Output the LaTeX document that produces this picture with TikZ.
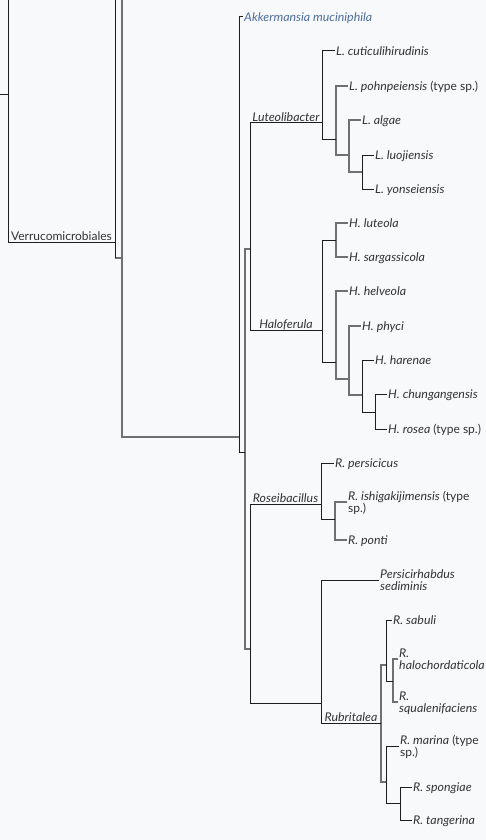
\documentclass[tikz,border=0pt]{standalone}
\usepackage{fontspec}
\setmainfont{Lato}[ItalicFeatures={FakeStretch=1.03}]
\definecolor{bg}{HTML}{F8F9FA}
\definecolor{lkB}{HTML}{1E1E1E}
\definecolor{lkG}{HTML}{707070}
\definecolor{txt}{HTML}{333333}
\definecolor{akk}{HTML}{4E6E9E}
\newcommand{\twoline}[2]{\begin{tabular}[t]{@{}l@{}}#1\\#2\end{tabular}}
\tikzset{
  lb/.style={draw=lkB, line width=1pt},
  lg/.style={draw=lkG, line width=1.4pt},
  leaf/.style={anchor=west, inner xsep=1pt, inner ysep=0pt, text height=8.4pt, text depth=0pt,
    text=txt, font=\fontsize{12}{10.5}\selectfont},
  leaftwo/.style={leaf, text depth=11.4pt},
  clade/.style={anchor=base, inner sep=0pt, text=txt, font=\fontsize{12}{12}\selectfont\itshape},
}
\begin{document}
\begin{tikzpicture}[x=1pt,y=-1pt]
\fill[bg] (0,0) rectangle (486,840);
\useasboundingbox (0,0) rectangle (486,840);
% internal nodes
\coordinate (e0) at (0,95);
\coordinate (n0) at (8,95);
\coordinate (t0) at (8,0);
\coordinate (nV) at (115,242);
\coordinate (tV) at (115,0);
\coordinate (n1) at (122,258);
\coordinate (t1) at (122,0);
\coordinate (n2) at (239,437);
\coordinate (n3) at (245,452);
\coordinate (n4) at (250,249);
\coordinate (n5) at (250,649);
\coordinate (nLut) at (322,123);
\coordinate (nL1) at (336,139);
\coordinate (nL2) at (349,155);
\coordinate (nL3) at (362,172);
\coordinate (nHal) at (322,330);
\coordinate (nH1) at (336,240);
\coordinate (nH2) at (336,362);
\coordinate (nH3) at (349,379);
\coordinate (nH4) at (362,395);
\coordinate (nH5) at (375,412);
\coordinate (nRos) at (321,504);
\coordinate (nR1) at (335,519);
\coordinate (n6) at (321,703);
\coordinate (nRub) at (381,723);
\coordinate (nU1) at (386,665);
\coordinate (nU2) at (393,681);
\coordinate (nU3) at (386,782);
\coordinate (nU4) at (400,803);
% leaves
\node[leaf, text=akk] (akk) at (243,17) {\itshape Akkermansia muciniphila};
\node[leaf] (cut) at (335,51) {\itshape L. cuticulihirudinis};
\node[leaf] (poh) at (348,86) {\itshape L. pohnpeiensis\/\upshape{} (type sp.)};
\node[leaf] (alg) at (361,120) {\itshape L. algae};
\node[leaf] (luo) at (374,155) {\itshape L. luojiensis};
\node[leaf] (yon) at (374,189) {\itshape L. yonseiensis};
\node[leaf] (hlu) at (348,223) {\itshape H. luteola};
\node[leaf] (hsa) at (348,257) {\itshape H. sargassicola};
\node[leaf] (hhe) at (348,291) {\itshape H. helveola};
\node[leaf] (hph) at (361,326) {\itshape H. phyci};
\node[leaf] (hha) at (374,360) {\itshape H. harenae};
\node[leaf] (hch) at (387,394) {\itshape H. chungangensis};
\node[leaf] (hro) at (387,429) {\itshape H. rosea\/\upshape{} (type sp.)};
\node[leaf] (rpe) at (334,463) {\itshape R. persicicus};
\node[leaftwo] (ris) at (347,502) {\twoline{\itshape R. ishigakijimensis\/\upshape{} (type}{sp.)}};
\node[leaf] (rpo) at (347,540) {\itshape R. ponti};
\node[leaftwo] (psd) at (379,580) {\twoline{\itshape Persicirhabdus}{\itshape sediminis}};
\node[leaf] (rsa) at (392,620) {\itshape R. sabuli};
\node[leaftwo] (rha) at (398,659) {\twoline{\itshape R.}{\itshape halochordaticola}};
\node[leaftwo] (rsq) at (398,702) {\twoline{\itshape R.}{\itshape squalenifaciens}};
\node[leaftwo] (rma) at (399,746) {\twoline{\itshape R. marina\/\upshape{} (type}{sp.)}};
\node[leaf] (rsp) at (412,787) {\itshape R. spongiae};
\node[leaf] (rta) at (412,820) {\itshape R. tangerina};
% clade labels
\node[clade, font=\fontsize{12}{12}\selectfont\upshape] (lV) at (61.5,240.5) {Verrucomicrobiales};
\node[clade] (lLut) at (286,121.5) {Luteolibacter};
\node[clade] (lHal) at (286,328.5) {Haloferula};
\node[clade] (lRos) at (285.5,502.5) {Roseibacillus};
\node[clade] (lRub) at (351,721.5) {Rubritalea};
% gray links
\draw[lg] (nV |- n1) -- (n1);
\draw[lg] (n1) -- (t1);
\draw[lg] (n1) |- (n2);
\draw[lg] (n3) |- (n4);
\draw[lg] (n3) |- (n5);
\draw[lg] (nL1) |- (poh.west);
\draw[lg] (nL1) |- (nL2);
\draw[lg] (nL2) |- (alg.west);
\draw[lg] (nL2) |- (nL3);
\draw[lg] (nH1) |- (hlu.west);
\draw[lg] (nH1) |- (hsa.west);
\draw[lg] (nH2) |- (hhe.west);
\draw[lg] (nH2) |- (nH3);
\draw[lg] (nH3) |- (hph.west);
\draw[lg] (nH3) |- (nH4);
\draw[lg] (nR1) |- (ris.west);
\draw[lg] (nR1) |- (rpo.west);
\draw[lg] (nRub) |- (nU1);
\draw[lg] (nRub) |- (nU3);
\draw[lg] (nU2) |- (rha.west);
\draw[lg] (nU2) |- (rsq.west);
% black links
\draw[lb] (e0) -- (n0);
\draw[lb] (n0) -- (t0);
\draw[lb] (n0) |- (nV);
\draw[lb] (nV) -- (tV);
\draw[lb] (nV) -- (nV |- n1);
\draw[lb] (n2) |- (akk.west);
\draw[lb] (n2) |- (n3);
\draw[lb] (n4) |- (nLut);
\draw[lb] (n4) |- (nHal);
\draw[lb] (n5) |- (nRos);
\draw[lb] (n5) |- (n6);
\draw[lb] (nLut) |- (cut.west);
\draw[lb] (nLut) |- (nL1);
\draw[lb] (nL3) |- (luo.west);
\draw[lb] (nL3) |- (yon.west);
\draw[lb] (nHal) |- (nH1);
\draw[lb] (nHal) |- (nH2);
\draw[lb] (nH4) |- (hha.west);
\draw[lb] (nH4) |- (nH5);
\draw[lb] (nH5) |- (hch.west);
\draw[lb] (nH5) |- (hro.west);
\draw[lb] (nRos) |- (rpe.west);
\draw[lb] (nRos) |- (nR1);
\draw[lb] (n6) |- (psd.west);
\draw[lb] (n6) |- (nRub);
\draw[lb] (nU1) |- (rsa.west);
\draw[lb] (nU1) |- (nU2);
\draw[lb] (nU3) |- (rma.west);
\draw[lb] (nU3) |- (nU4);
\draw[lb] (nU4) |- (rsp.west);
\draw[lb] (nU4) |- (rta.west);
\end{tikzpicture}
\end{document}
